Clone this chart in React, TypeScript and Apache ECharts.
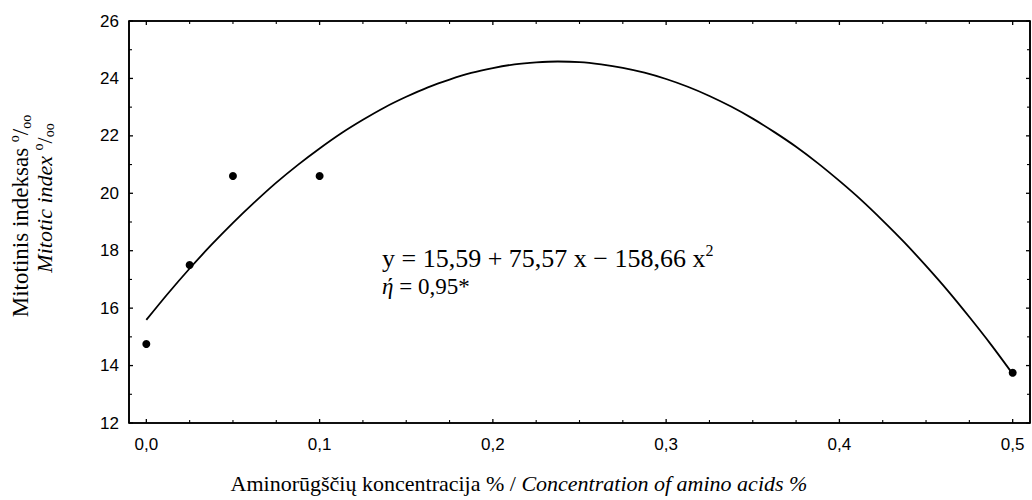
import React, { useEffect, useRef } from "react";
import * as echarts from "echarts";

// ---- data ----
const pointX = [0, 0.025, 0.05, 0.1, 0.5];
const pointY = [14.75, 17.5, 20.6, 20.6, 13.75];

// fitted curve (y = 15,59 + 75,57 x − 158,66 x²)
const curveX = [0, 0.0125, 0.025, 0.0375, 0.05, 0.0625, 0.075, 0.0875, 0.1, 0.1125, 0.125, 0.1375, 0.15, 0.1625, 0.175, 0.1875, 0.2, 0.2125, 0.225, 0.2375, 0.25, 0.2625, 0.275, 0.2875, 0.3, 0.3125, 0.325, 0.3375, 0.35, 0.3625, 0.375, 0.3875, 0.4, 0.4125, 0.425, 0.4375, 0.45, 0.4625, 0.475, 0.4875, 0.5];
const curveY = [15.59, 16.51, 17.38, 18.2, 18.97, 19.69, 20.37, 20.99, 21.56, 22.09, 22.56, 22.99, 23.36, 23.69, 23.96, 24.19, 24.36, 24.49, 24.56, 24.59, 24.57, 24.49, 24.37, 24.2, 23.98, 23.71, 23.39, 23.02, 22.6, 22.13, 21.62, 21.05, 20.43, 19.77, 19.05, 18.29, 17.47, 16.61, 15.69, 14.73, 13.71];

const xMin = -0.01;
const xMax = 0.51;
const yMin = 12;
const yMax = 26;
const xMajorTicks = [0, 0.1, 0.2, 0.3, 0.4, 0.5];
const xMinorTicks = [0.025, 0.05, 0.075, 0.125, 0.15, 0.175, 0.225, 0.25, 0.275, 0.325, 0.35, 0.375, 0.425, 0.45, 0.475];
const yMajorTicks = [12, 14, 16, 18, 20, 22, 24, 26];
const yMinorTicks = [13, 15, 17, 19, 21, 23, 25];

const yTitle1 = "Mitotinis indeksas ";
const yTitle2 = "Mitotic index ";
const xTitleLt = "Aminorūgščių koncentracija % / ";
const xTitleEn = "Concentration of amino acids %";
const equationText = "y = 15,59 + 75,57 x − 158,66 x";
const etaText = " = 0,95*";

const SERIF = "Liberation Serif";
const SANS = "Liberation Sans";

// plot area (pixels) and tick lengths converted to axis units
const GRID = { left: 129, right: 2, top: 21, bottom: 77 };
const W = 1032;
const H = 500;
const pxPerX = (W - GRID.left - GRID.right) / (xMax - xMin);
const pxPerY = (H - GRID.top - GRID.bottom) / (yMax - yMin);

function seg(a: number[], b: number[], width: number) {
  return {
    type: "line",
    xAxisIndex: 0,
    yAxisIndex: 0,
    data: [a, b],
    smooth: true,
    showSymbol: false,
    symbol: "none",
    silent: true,
    clip: false,
    z: 1,
    lineStyle: { color: "#000", width },
  };
}

export default function App() {
  const ref = useRef<HTMLDivElement>(null);

  useEffect(() => {
    document.body.style.margin = "0";
    if (!ref.current) return;
    const chart = echarts.init(ref.current, undefined, { renderer: "svg" });

    const fmt = (v: number) => v.toFixed(1).replace(".", ",");
    const mkX = (pos: string, labels: boolean) => ({
      type: "value",
      min: xMin,
      max: xMax,
      position: pos,
      splitLine: { show: false },
      axisLine: { show: true, onZero: false, lineStyle: { color: "#000", width: 1.6 } },
      axisTick: { show: false },
      axisLabel: labels
        ? { show: true, customValues: xMajorTicks, formatter: fmt, color: "#000", fontFamily: SANS, fontSize: 17, margin: 13 }
        : { show: false },
    });
    const mkY = (pos: string, labels: boolean) => ({
      type: "value",
      min: yMin,
      max: yMax,
      interval: 2,
      position: pos,
      splitLine: { show: false },
      axisLine: { show: true, onZero: false, lineStyle: { color: "#000", width: 1.6 } },
      axisTick: { show: false },
      axisLabel: labels ? { show: true, color: "#000", fontFamily: SANS, fontSize: 17, margin: 10 } : { show: false },
    });

    // frame and tick marks as series (placed through the axes' scales)
    const frame: any[] = [
      seg([xMin, yMin], [xMax, yMin], 1.6),
      seg([xMin, yMax], [xMax, yMax], 1.6),
      seg([xMin, yMin], [xMin, yMax], 1.6),
      seg([xMax, yMin], [xMax, yMax], 1.6),
    ];
    const ticks: any[] = [];
    const addX = (vals: number[], px: number, w: number) =>
      vals.forEach((v) => {
        const d = px / pxPerY;
        ticks.push(seg([v, yMin], [v, yMin + d], w));
        ticks.push(seg([v, yMax], [v, yMax - d], w));
      });
    const addY = (vals: number[], px: number, w: number) =>
      vals.forEach((v) => {
        const d = px / pxPerX;
        ticks.push(seg([xMin, v], [xMin + d, v], w));
        ticks.push(seg([xMax, v], [xMax - d, v], w));
      });
    addX(xMajorTicks, 4, 1.3);
    addX(xMinorTicks, 3, 1.1);
    addY(yMajorTicks, 4, 1.3);
    addY(yMinorTicks, 3, 1.1);

    const option: any = {
      animation: false,
      backgroundColor: "#fff",
      grid: GRID,
      xAxis: [mkX("bottom", true), mkX("top", false)],
      yAxis: [mkY("left", true), mkY("right", false)],
      series: [
        ...frame,
        ...ticks,
        {
          type: "line",
          xAxisIndex: 0,
          yAxisIndex: 0,
          data: curveX.map((x, i) => [x, curveY[i]]),
          smooth: 0.3,
          showSymbol: false,
          symbol: "none",
          lineStyle: { color: "#000", width: 1.8 },
          z: 2,
        },
        {
          type: "scatter",
          xAxisIndex: 0,
          yAxisIndex: 0,
          data: pointX.map((x, i) => [x, pointY[i]]),
          symbolSize: 8,
          itemStyle: { color: "#000", opacity: 1 },
          z: 3,
        },
      ],
      graphic: [
        {
          type: "text",
          x: 20,
          y: 216,
          rotation: Math.PI / 2,
          style: {
            text: `{a|${yTitle1}}{sup|o}{a|/}{sub|oo}`,
            align: "center",
            verticalAlign: "middle",
            rich: {
              a: { fontFamily: SERIF, fontSize: 23, lineHeight: 26, fill: "#000", verticalAlign: "middle" },
              sup: { fontFamily: SERIF, fontSize: 14, lineHeight: 14, fill: "#000", verticalAlign: "top" },
              sub: { fontFamily: SERIF, fontSize: 14, lineHeight: 14, fill: "#000", verticalAlign: "bottom" },
            },
          },
        },
        {
          type: "text",
          x: 44,
          y: 198,
          rotation: Math.PI / 2,
          style: {
            text: `{a|${yTitle2}}{sup|o}{b|/}{sub|oo}`,
            align: "center",
            verticalAlign: "middle",
            rich: {
              a: { fontFamily: SERIF, fontSize: 22, fontStyle: "italic", lineHeight: 25, fill: "#000", verticalAlign: "middle" },
              b: { fontFamily: SERIF, fontSize: 22, lineHeight: 25, fill: "#000", verticalAlign: "middle" },
              sup: { fontFamily: SERIF, fontSize: 14, lineHeight: 14, fill: "#000", verticalAlign: "top" },
              sub: { fontFamily: SERIF, fontSize: 14, lineHeight: 14, fill: "#000", verticalAlign: "bottom" },
            },
          },
        },
        {
          type: "text",
          x: 519,
          y: 483,
          style: {
            text: `{a|${xTitleLt}}{b|${xTitleEn}}`,
            align: "center",
            verticalAlign: "middle",
            rich: {
              a: { fontFamily: SERIF, fontSize: 22, fill: "#000" },
              b: { fontFamily: SERIF, fontSize: 22, fontStyle: "italic", fill: "#000" },
            },
          },
        },
        {
          type: "text",
          x: 382,
          y: 258,
          style: {
            text: `{a|${equationText}}{sup|2}`,
            align: "left",
            verticalAlign: "middle",
            rich: {
              a: { fontFamily: SERIF, fontSize: 26, lineHeight: 31, fill: "#000", verticalAlign: "middle" },
              sup: { fontFamily: SERIF, fontSize: 16, lineHeight: 16, fill: "#000", verticalAlign: "top" },
            },
          },
        },
        {
          type: "text",
          x: 382,
          y: 286,
          style: {
            text: `{i|ή}{a|${etaText}}`,
            align: "left",
            verticalAlign: "middle",
            rich: {
              i: { fontFamily: SERIF, fontSize: 23, fontStyle: "italic", fill: "#000" },
              a: { fontFamily: SERIF, fontSize: 23, fill: "#000" },
            },
          },
        },
      ],
    };

    chart.setOption(option);
    return () => chart.dispose();
  }, []);

  return <div ref={ref} style={{ width: W, height: H, background: "#fff" }} />;
}
